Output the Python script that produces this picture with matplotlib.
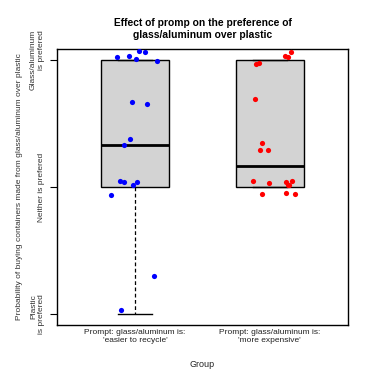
import matplotlib
matplotlib.use("Agg")
import matplotlib.pyplot as plt

plt.rcParams['font.family'] = ['Liberation Sans', 'DejaVu Sans']

# group labels
groups = ["Prompt: glass/aluminum is:\n'easier to recycle'",
          "Prompt: glass/aluminum is:\n'more expensive'"]
ytick_vals = [-1, 0, 1]
ytick_labels = ["Plastic\nis prefered", "Neither is prefered", "Glass/aluminum\nis prefered"]

# box statistics per group
medians = [0.33, 0.165]
q1s = [0.0, 0.0]
q3s = [1.0, 1.0]
whis_lo = [-1.0, 0.0]
whis_hi = [1.0, 1.0]

# jittered points (x position, y value)
recycle_x = [0.868, 0.957, 1.004, 1.031, 1.075, 1.162, 0.979, 1.09, 0.959, 0.92,
             0.888, 0.918, 1.014, 0.984, 0.824, 1.14, 0.896]
recycle_y = [1.024, 1.03, 1.008, 1.07, 1.06, 0.995, 0.672, 0.656, 0.378, 0.328,
             0.05, 0.039, 0.039, 0.013, -0.06, -0.70, -0.971]
expensive_x = [2.155, 2.113, 2.132, 1.895, 1.922, 1.89, 1.94, 1.93, 1.985, 1.873,
               1.996, 2.122, 2.164, 2.132, 2.144, 1.939, 2.122, 2.187]
expensive_y = [1.066, 1.029, 1.024, 0.969, 0.976, 0.695, 0.349, 0.289, 0.291, 0.05,
               0.034, 0.039, 0.047, 0.018, 0.013, -0.058, -0.05, -0.053]

fig = plt.figure(figsize=(3.76, 3.72), dpi=100)
ax = fig.add_axes([0.1516, 0.1263, 0.7739, 0.742])

stats = []
for i in range(len(groups)):
    stats.append({"med": medians[i], "q1": q1s[i], "q3": q3s[i],
                  "whislo": whis_lo[i], "whishi": whis_hi[i], "fliers": []})

ax.bxp(stats, positions=[1, 2], widths=0.5, patch_artist=True, showfliers=False,
       boxprops=dict(facecolor="#d3d3d3", edgecolor="black", linewidth=1),
       medianprops=dict(color="black", linewidth=2),
       whiskerprops=dict(color="black", linewidth=0.9, linestyle=(0, (3, 2))),
       capprops=dict(color="black", linewidth=1), capwidths=0.25)

ax.scatter(recycle_x, recycle_y, s=14, color="#0000ff", zorder=5, linewidths=0)
ax.scatter(expensive_x, expensive_y, s=14, color="#ff0000", zorder=5, linewidths=0)

ax.set_xlim(0.42, 2.58)
ax.set_ylim(-1.087, 1.087)
ax.set_xticks([1, 2])
ax.set_xticklabels(groups, fontsize=6, color="#222222", linespacing=1.1)
ax.tick_params(axis="x", length=0, pad=3)
ax.set_yticks(ytick_vals)
ax.set_yticklabels(ytick_labels, fontsize=6, color="#333333", rotation=90,
                   va="center", ha="right", linespacing=1.1)
ax.tick_params(axis="y", length=5, width=0.8, pad=4)
for sp in ax.spines.values():
    sp.set_linewidth(1)

ax.set_xlabel("Group", fontsize=6.5, labelpad=12, color="#222222")
ax.set_ylabel("Probability of buying containers made from glass/aluminum over plastic",
              fontsize=6, labelpad=5, color="#333333")
ax.set_title("Effect of promp on the preference of\nglass/aluminum over plastic",
             fontsize=7.4, fontweight="bold", pad=8, linespacing=1.25)

fig.savefig("out.png", dpi=100)
